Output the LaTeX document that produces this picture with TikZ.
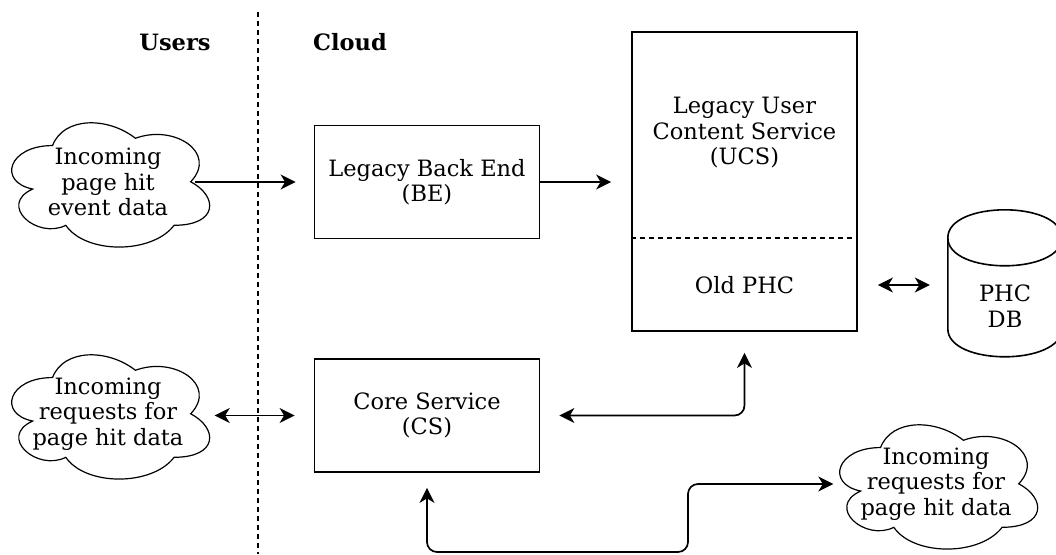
\documentclass[tikz,border=0pt]{standalone}
\usepackage{fontspec}
\setmainfont{DejaVu Serif}
\usetikzlibrary{arrows.meta,calc}

\tikzset{
  every node/.style={font=\fontsize{22.5}{25.5}\selectfont, align=center, inner sep=0pt},
  box/.style={draw, line width=1.8pt, minimum width=225pt, minimum height=113pt},
  cloudframe/.style={minimum width=221pt, minimum height=145pt},
  cloudline/.style={draw, line width=1.2pt},
  title/.style={font=\bfseries\fontsize{22.5}{25.5}\selectfont},
  tip/.tip={Stealth[length=15pt,width=15pt,inset=4.5pt]},
  conn/.style={line width=1.7pt, -tip},
  biconn/.style={line width=1.7pt, tip-tip},
  sepline/.style={line width=1.2pt, dash pattern=on 5pt off 4pt},
}

% draw.io style cloud outline fitted to the frame of a node
\newcommand\cloudoutline[1]{%
  \begin{scope}[shift={(#1.north west)}, x=221pt, y=-145pt]
    \draw[cloudline] (0.25,0.25)
      .. controls (0.05,0.25) and (0,0.5) .. (0.16,0.55)
      .. controls (0,0.66) and (0.18,0.9) .. (0.31,0.8)
      .. controls (0.4,1) and (0.7,1) .. (0.8,0.8)
      .. controls (1,0.8) and (1,0.6) .. (0.875,0.5)
      .. controls (1,0.3) and (0.8,0.1) .. (0.625,0.2)
      .. controls (0.5,0.05) and (0.3,0.05) .. (0.25,0.25) -- cycle;
  \end{scope}}

\begin{document}
\begin{tikzpicture}[x=1pt, y=-1pt]
  \useasboundingbox (0,0) rectangle (1056,554);

  % zone titles and separator
  \node[title] (users) at (175,42) {Users};
  \node[title] (cloudlbl) at (350,42) {Cloud};
  \coordinate (septop) at (258,12);
  \coordinate (sepbot) at (258,554);
  \draw[sepline] (septop) -- (sepbot);

  % clouds
  \node[cloudframe] (c1) at (108,182) {Incoming\\page hit\\event data};
  \cloudoutline{c1}
  \node[cloudframe] (c2) at (108,414) {Incoming\\requests for\\page hit data};
  \cloudoutline{c2}
  \node[cloudframe] (c3) at (936,484) {Incoming\\requests for\\page hit data};
  \cloudoutline{c3}

  % services
  \node[box] (be) at (427,182) {Legacy Back End\\(BE)};
  \node[box] (cs) at (427,415.5) {Core Service\\(CS)};

  \node[draw, line width=1.8pt, minimum width=225pt, minimum height=299pt] (ucs) at (744.5,181.5) {};
  \node (ucstxt) at (744.5,133) {Legacy User\\Content Service\\(UCS)};
  \node (oldphc) at (744.5,285) {Old PHC};
  \coordinate (div) at (744.5,238);
  \draw[line width=1.2pt, dash pattern=on 5pt off 4pt] (div -| ucs.west) -- (div -| ucs.east);

  % database cylinder
  \node[minimum width=114pt, minimum height=147pt] (db) at (1005,283.5) {};
  \begin{scope}[shift={(db.north west)}]
    \draw[line width=1.6pt] (0,28) .. controls (0,-9.33) and (114,-9.33) .. (114,28)
      -- (114,119) .. controls (114,156.33) and (0,156.33) .. (0,119) -- cycle;
    \draw[line width=1.6pt] (0,28) .. controls (0,65.33) and (114,65.33) .. (114,28);
  \end{scope}
  \node (dbtxt) at (1005,306) {PHC\\DB};

  % connectors
  \draw[conn, shorten >=18pt] ([xshift=-24pt]be.west -| c1.east) -- (be.west);
  \draw[conn, shorten >=20pt] (be.east) -- (ucs.west |- be.east);
  \draw[biconn, shorten <=-4pt, shorten >=19pt] (cs.west -| c2.east) -- (cs.west);
  \draw[biconn, shorten <=20pt, shorten >=18pt] (oldphc -| ucs.east) -- (oldphc -| db.west);
  \draw[biconn, rounded corners=10pt, shorten <=19pt, shorten >=21pt] (cs.east) -| (ucs.south);
  \coordinate (bend) at (688,552);
  \draw[biconn, rounded corners=10pt, shorten <=15pt, shorten >=-8pt] (cs.south) |- (bend) |- (c3.west);
\end{tikzpicture}
\end{document}
